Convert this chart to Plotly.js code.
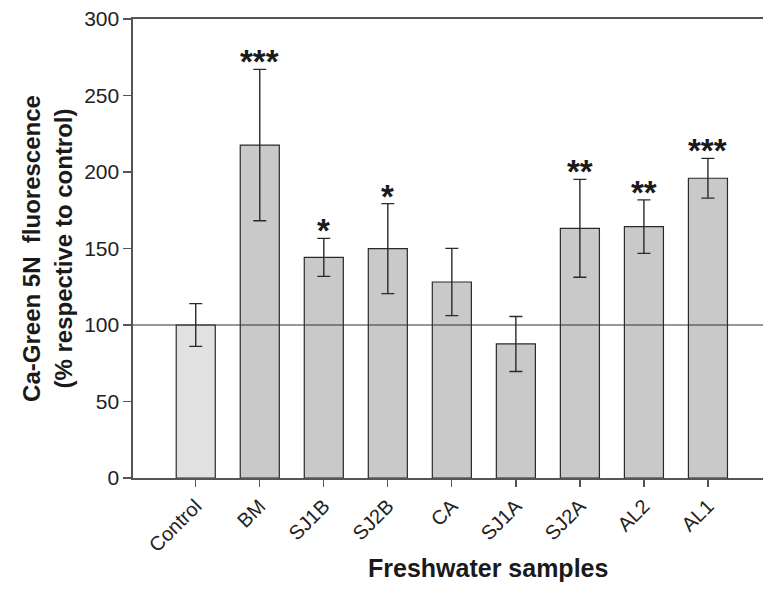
<!DOCTYPE html>
<html>
<head>
<meta charset="utf-8">
<script src="https://cdn.plot.ly/plotly-3.0.1.min.js"></script>
<style>html,body{margin:0;padding:0;background:#fff;}#chart{width:763px;height:592px;}</style>
</head>
<body>
<div id="chart"></div>
<script>
var categories = ["Control", "BM", "SJ1B", "SJ2B", "CA", "SJ1A", "SJ2A", "AL2", "AL1"];
var values = [100, 217.6, 144.2, 149.9, 128.1, 87.6, 163.2, 164.3, 195.9];
var errors = [14, 49.5, 12.4, 29.4, 22, 18, 32, 17.5, 13];
var significance = ["", "***", "*", "*", "", "", "**", "**", "***"];
var yTicks = [0, 50, 100, 150, 200, 250, 300];

var fillColors = categories.map(function (c, i) { return i === 0 ? "#e1e1e1" : "#c9c9c9"; });

var trace = {
  type: "bar",
  x: categories,
  y: values,
  width: 0.61,
  marker: { color: fillColors, line: { color: "#2a2a2a", width: 1.2 } },
  error_y: { type: "data", array: errors, visible: true, color: "#2a2a2a", thickness: 1.4, width: 6.5 },
  hoverinfo: "skip"
};

var FONT = "Liberation Sans, Arial, sans-serif";
var annotations = [];
categories.forEach(function (c, i) {
  if (significance[i]) {
    annotations.push({
      x: c, y: values[i] + errors[i], xref: "x", yref: "y",
      text: "<b>" + significance[i] + "</b>", showarrow: false,
      yanchor: "bottom", yshift: -13,
      font: { family: FONT, size: 33, color: "#1a1a1a" }
    });
  }
});
annotations.push({
  x: (488 - 133) / (763 - 133), y: -(568 - 478) / (478 - 19),
  xref: "paper", yref: "paper", text: "<b>Freshwater samples</b>",
  showarrow: false, xanchor: "center", yanchor: "middle",
  font: { family: FONT, size: 25, color: "#1a1a1a" }
});

var layout = {
  width: 763, height: 592,
  margin: { l: 133, r: 0, t: 19, b: 114, pad: 0 },
  paper_bgcolor: "#ffffff", plot_bgcolor: "#ffffff",
  showlegend: false,
  font: { family: FONT, color: "#222" },
  xaxis: {
    type: "category",
    range: [-0.98, 8.86],
    showline: true, mirror: true, linecolor: "#555", linewidth: 1.6,
    ticks: "outside", ticklen: 7, tickwidth: 1.3, tickcolor: "#555",
    tickangle: -45, tickfont: { size: 20, color: "#222" },
    showgrid: false, zeroline: false, fixedrange: true
  },
  yaxis: {
    range: [0, 300],
    tickvals: yTicks,
    showline: true, linecolor: "#555", linewidth: 1.6,
    ticks: "outside", ticklen: 8, tickwidth: 1.3, tickcolor: "#555",
    tickfont: { size: 21, color: "#222" },
    showgrid: false, zeroline: false, fixedrange: true,
    title: { text: "<b>Ca-Green 5N  fluorescence<br>(% respective to control)</b>", font: { size: 24, color: "#1a1a1a" }, standoff: 5 }
  },
  shapes: [{
    type: "line", xref: "paper", yref: "y", x0: 0, x1: 1, y0: 100, y1: 100,
    line: { color: "#333", width: 1 }, layer: "above"
  }],
  annotations: annotations
};

Plotly.newPlot("chart", [trace], layout, { displayModeBar: false, staticPlot: true });
</script>
</body>
</html>
